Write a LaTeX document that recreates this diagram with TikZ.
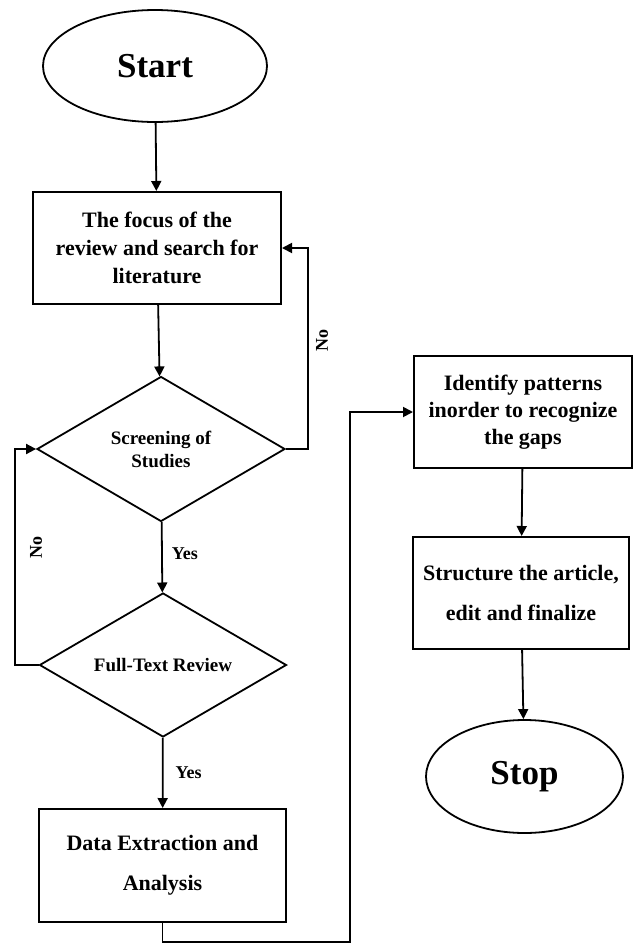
\documentclass[tikz,border=0pt]{standalone}
\usepackage{fontspec}
\setmainfont{Liberation Serif}
\usetikzlibrary{shapes.geometric,arrows.meta}
\begin{document}
\begin{tikzpicture}[x=1pt,y=-1pt,
  every node/.style={font=\bfseries},
  line/.style={line width=1.8pt},
  arr/.style={line width=1.8pt,-{Triangle[length=10pt,width=10pt]}},
  term/.style={ellipse,draw,line width=1.8pt,inner sep=0pt},
  procbox/.style={rectangle,draw,line width=2pt,inner sep=0pt,align=center},
  decis/.style={diamond,draw,line width=1.8pt,inner xsep=-30pt,inner ysep=0pt,align=center},
  lbl/.style={font=\bfseries\fontsize{18}{20}\selectfont,inner sep=0pt}
]
\useasboundingbox (0,0) rectangle (635,943);

\node[term,minimum width=224pt,minimum height=112pt,font=\bfseries\fontsize{35}{40}\selectfont] (start) at (155,66) {Start};

\node[procbox,minimum width=248pt,minimum height=112pt,font=\bfseries\fontsize{22}{28}\selectfont] (box1) at (157,248) {The focus of the\\review and search for\\literature};

\node[decis,minimum width=248pt,minimum height=145pt,font=\bfseries\fontsize{19}{23}\selectfont] (d1) at (161,449) {Screening of\\Studies};

\node[decis,minimum width=247pt,minimum height=144pt,font=\bfseries\fontsize{19}{20}\selectfont] (d2) at (163,665) {Full-Text Review};

\node[procbox,minimum width=247pt,minimum height=113pt,font=\bfseries\fontsize{22}{40}\selectfont] (data) at (162.5,865.5) {Data Extraction and\\Analysis};

\node[procbox,minimum width=218pt,minimum height=112pt,font=\bfseries\fontsize{22}{27}\selectfont] (ident) at (523,412) {Identify patterns\\inorder to recognize\\the gaps};

\node[procbox,minimum width=216pt,minimum height=112pt,font=\bfseries\fontsize{22}{40}\selectfont] (struct) at (521,593) {Structure the article,\\edit and finalize};

\node[term,minimum width=197pt,minimum height=113pt,font=\bfseries\fontsize{35}{40}\selectfont] (stop) at (524.5,776.5) {Stop};

\coordinate (rr) at (308,449);
\coordinate (ll) at (15,665);
\coordinate (bl) at (162.5,942);
\coordinate (br) at (350,942);

\draw[arr] (start) -- (box1);
\draw[arr] (box1) -- (d1);
\draw[arr] (d1.east) -- (rr) |- (box1.east);
\draw[arr] (d1) -- node[lbl,right=9pt,pos=0.45]{Yes} (d2);
\draw[arr] (d2.west) -- (ll) |- (d1.west);
\draw[arr] (d2) -- node[lbl,right=12pt,pos=0.5]{Yes} (data);
\draw[arr] (data.south) -- (bl) -- (br) |- (ident.west);
\draw[arr] (ident) -- (struct);
\draw[arr] (struct) -- (stop);

\node[lbl,rotate=90] (no1) at (322,340) {No};
\node[lbl,rotate=90] (no2) at (36,547) {No};
\end{tikzpicture}
\end{document}
